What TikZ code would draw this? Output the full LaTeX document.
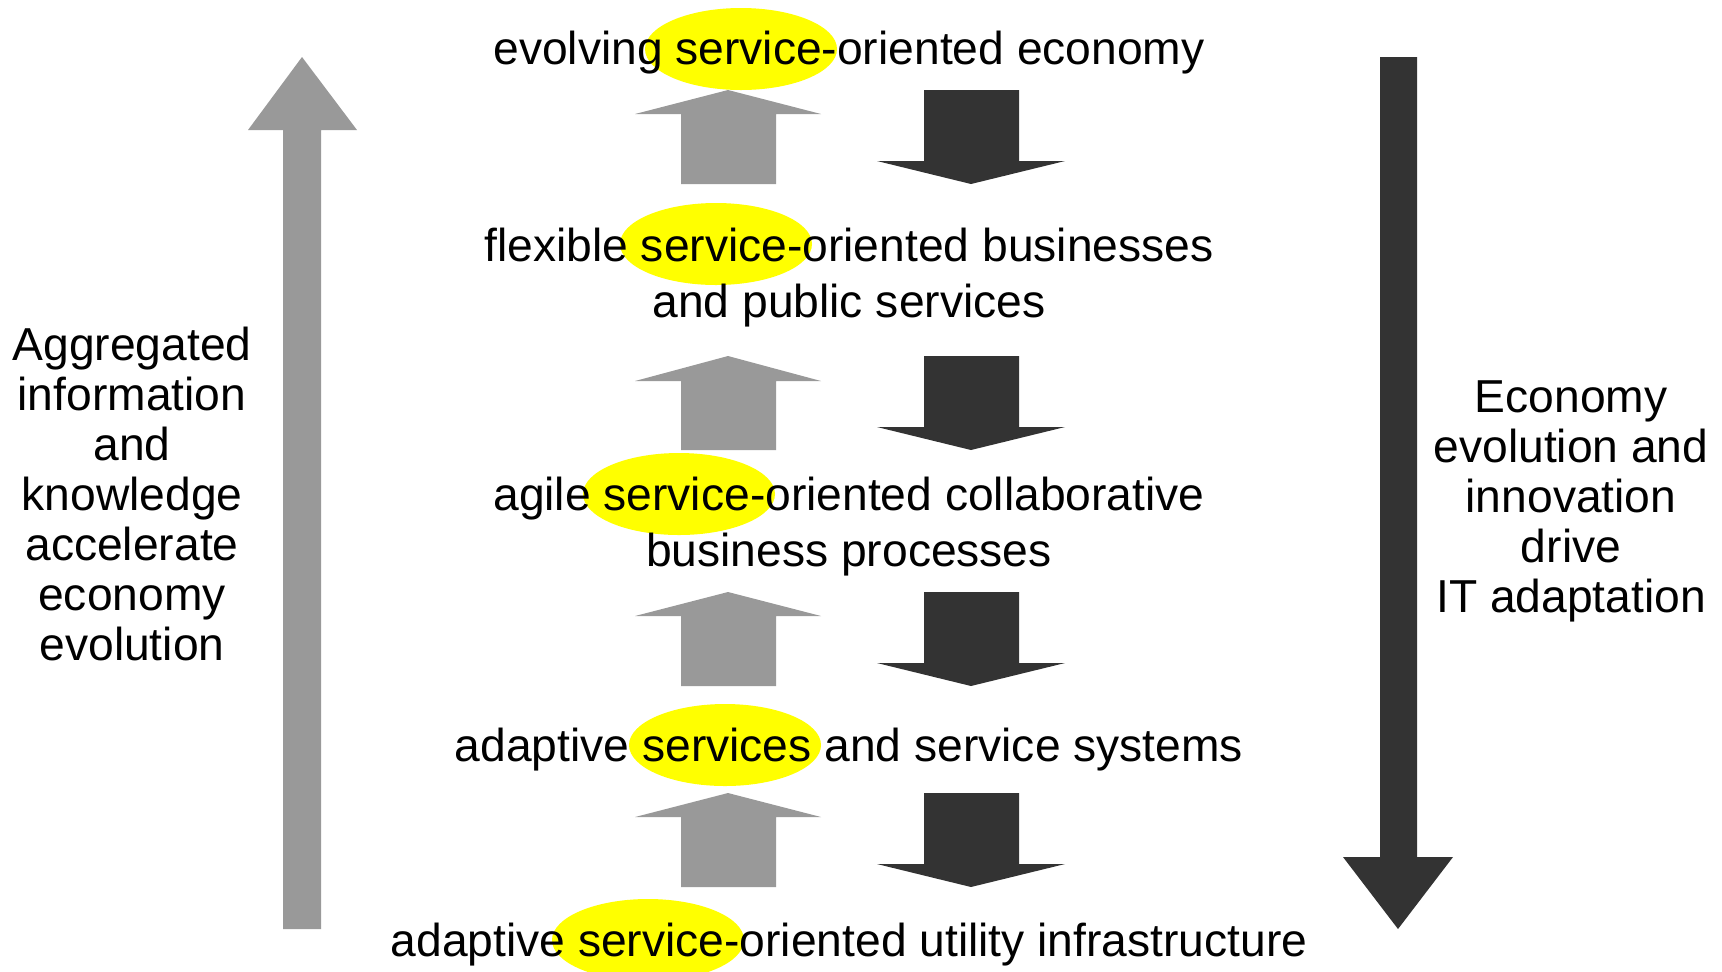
\documentclass[tikz,border=0pt]{standalone}
\usepackage{fontspec}
\setmainfont{Liberation Sans}
\definecolor{upgray}{HTML}{999999}
\definecolor{downgray}{HTML}{333333}
\definecolor{hilite}{HTML}{FFFF00}
\tikzset{
  level/.style={font=\fontsize{23.1}{28}\selectfont,align=center,anchor=base,inner sep=0pt},
  side/.style={font=\fontsize{23.1}{25}\selectfont,align=center,anchor=base,inner sep=0pt}
}

\begin{document}
\begin{tikzpicture}[x=0.5pt,y=-0.5pt]
\useasboundingbox(0,0)rectangle(1722,971);
% yellow marks behind the word
\foreach \cx/\cy in {741/49,716/244,679/494,725/745,648/940}
\fill[hilite](\cx,\cy)ellipse[x radius=96,y radius=41];
% big side arrows
\fill[upgray](283,929)--(283,130)--(248,130)--(302,57)--(357,130)--(321,130)--(321,929)--cycle;
\fill[downgray](1380,57)--(1417,57)--(1417,857)--(1453,857)--(1398,929)--(1343,857)--(1380,857)--cycle;
% small arrows between the levels
\foreach \t/\b/\e in {90/114/184,356/381/450,592/616/686,793/817/887}{
\fill[upgray](681,\e)--(681,\b)--(635,\b)--(728,\t)--(821,\b)--(776,\b)--(776,\e)--cycle;
\fill[downgray](924,\t)--(1019,\t)--(1019,\e-23)--(1065,\e-23)--(971,\e)--(877,\e-23)--(924,\e-23)--cycle;
}
% base anchor = baseline of the last line
\node[level](econ)at(849,64){evolving service-oriented economy};
\node[level](biz)at(849,317){flexible service-oriented businesses\\and public services};
\node[level](proc)at(849,566){agile service-oriented collaborative\\business processes};
\node[level](sys)at(849,761){adaptive services and service systems};
\node[level](infra)at(849,956){adaptive service-oriented utility infrastructure};
\node[side](agg)at(132,660){Aggregated\\information\\and\\knowledge\\accelerate\\economy\\evolution};
\node[side](drive)at(1571,612){Economy\\evolution and\\innovation\\drive\\IT adaptation};
\end{tikzpicture}
\end{document}
